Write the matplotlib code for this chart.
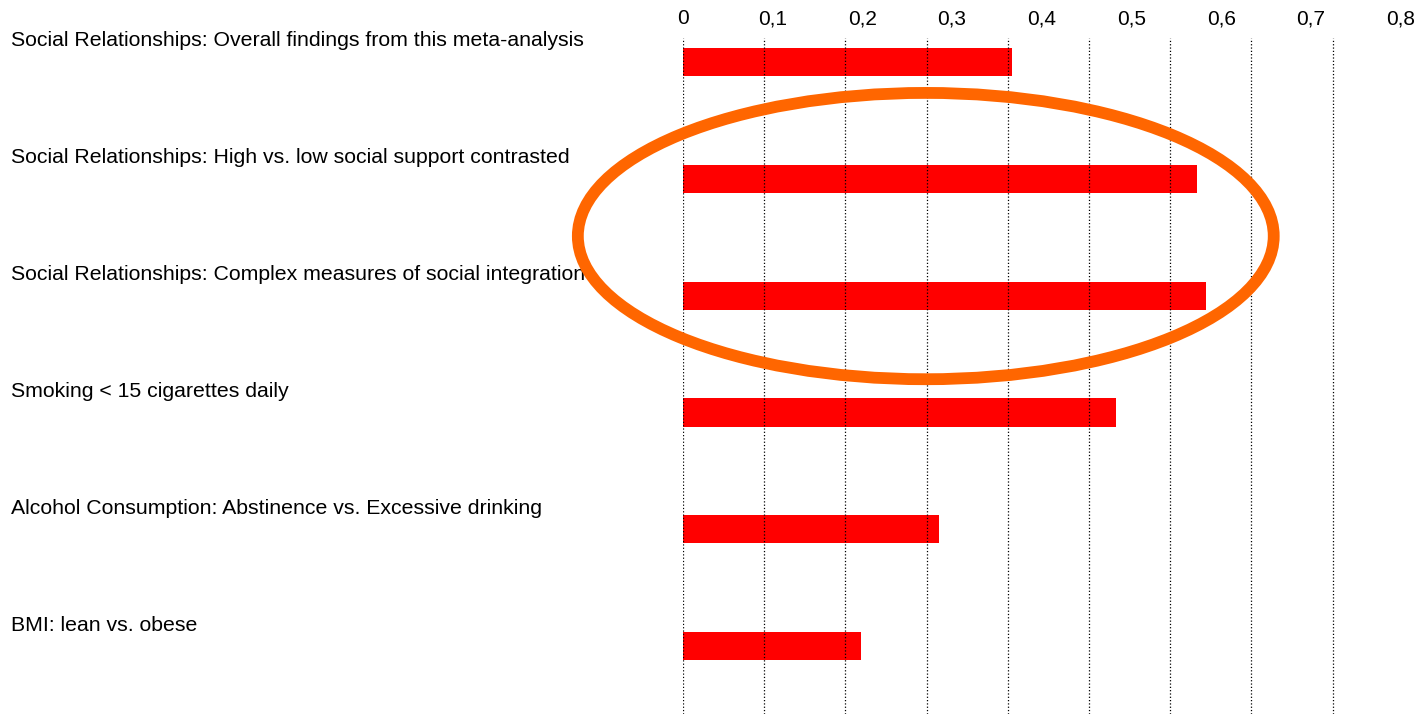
import matplotlib.pyplot as plt
from matplotlib.patches import Ellipse
from matplotlib.transforms import blended_transform_factory

# Datos
categories = [
    'Social Relationships: Overall findings from this meta-analysis',
    'Social Relationships: High vs. low social support contrasted',
    'Social Relationships: Complex measures of social integration',
    'Smoking < 15 cigarettes daily',
    'Alcohol Consumption: Abstinence vs. Excessive drinking',
    'BMI: lean vs. obese',
]
values = [0.405, 0.633, 0.644, 0.533, 0.315, 0.219]
ticks = [0, 0.1, 0.2, 0.3, 0.4, 0.5, 0.6, 0.7, 0.8]
tick_labels = ['0', '0,1', '0,2', '0,3', '0,4', '0,5', '0,6', '0,7', '0,8']

plt.rcParams['font.family'] = ['Liberation Sans', 'DejaVu Sans']

fig = plt.figure(figsize=(14.2, 7.14), dpi=100)
W, H = 1420, 714
ax = fig.add_axes([683 / W, 0, (0.9 * 812) / W, (714 - 38) / H])

pos = list(range(len(categories)))
ax.barh(pos, values, height=0.24, color='#ff0000', zorder=1)

ax.set_xlim(0, 0.9)
ax.set_ylim(5.58, -0.205)
ax.set_xticks(ticks)
ax.set_xticklabels([])
ax.tick_params(axis='both', length=0, labelbottom=False, labelleft=False)
ax.set_yticks([])
ax.grid(axis='x', linestyle=':', color='black', linewidth=0.9, zorder=2)
ax.set_axisbelow(False)
for s in ax.spines.values():
    s.set_visible(False)

# etiquetas superiores (espaciado del original)
sec = ax.secondary_xaxis('top', functions=(lambda x: x * 812 / 897, lambda x: x * 897 / 812))
sec.set_xticks(ticks)
sec.set_xticklabels(tick_labels, fontsize=15)
sec.tick_params(length=0, pad=7)
sec.spines['top'].set_visible(False)

# nombres de categorias
trans = blended_transform_factory(fig.transFigure, ax.transData)
for i, name in enumerate(categories):
    ax.text(11 / W, i - 0.18, name, transform=trans, ha='left', va='center', fontsize=15.3)

# elipse resaltando
ell = Ellipse((0.299, 1.49), 0.857, 2.45, fill=False, edgecolor='#ff6600', linewidth=8.5,
              clip_on=False, zorder=5)
ax.add_patch(ell)

fig.savefig('out.png', dpi=100)
